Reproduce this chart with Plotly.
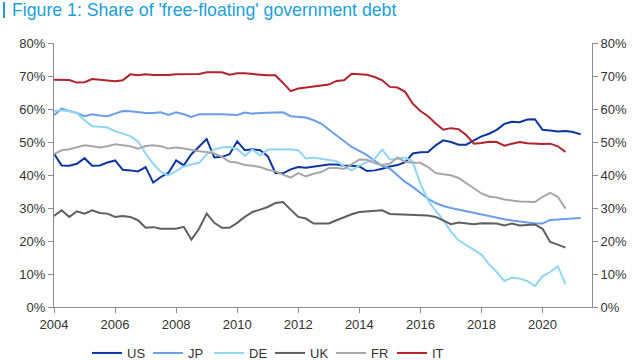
import plotly.graph_objects as go

# Quarterly observations, 2004Q1 onwards
start_year = 2004
US = [46.5, 42.9, 42.8, 43.4, 45.1, 42.8, 42.9, 43.8, 44.4, 41.6, 41.4, 41.1, 42.4, 37.7, 39.4, 40.7,
      44.4, 42.9, 46.3, 48.7, 50.9, 45.3, 45.5, 46.3, 50.2, 47.5, 47.8, 47.5, 45.7, 40.6, 40.5, 41.7,
      42.4, 42.2, 42.6, 42.9, 43.2, 43.2, 42.8, 42.8, 42.6, 41.2, 41.4, 41.9, 42.6, 43.0, 43.9, 46.5,
      46.9, 47.0, 49.0, 50.5, 50.0, 49.2, 49.2, 50.5, 51.7, 52.5, 53.7, 55.5, 56.1, 56.0, 56.8, 56.9,
      53.7, 53.5, 53.2, 53.3, 53.0, 52.3]
JP = [58.1, 60.1, 59.4, 58.8, 57.8, 58.4, 58.0, 57.8, 58.6, 59.4, 59.3, 59.0, 58.8, 58.8, 59.0, 58.2,
      59.0, 58.4, 57.6, 58.4, 58.5, 58.4, 58.4, 58.2, 58.2, 58.9, 58.6, 58.8, 58.8, 59.0, 59.0, 57.8,
      57.6, 57.4, 56.6, 55.6, 53.8, 52.1, 50.2, 48.5, 47.3, 46.0, 44.3, 42.7, 41.9, 39.9, 37.9, 36.4,
      34.5, 32.8, 31.5, 30.6, 30.0, 29.5, 28.9, 28.5, 27.9, 27.6, 27.0, 26.6, 26.2, 25.9, 25.5, 25.3,
      25.3, 26.4, 26.5, 26.6, 26.8, 27.0]
DE = [59.4, 59.6, 59.3, 58.8, 56.6, 54.8, 54.6, 54.4, 53.3, 52.5, 51.8, 50.2, 46.5, 43.4, 40.9, 39.9,
      41.2, 42.6, 43.2, 43.7, 46.3, 47.7, 48.3, 48.5, 47.9, 45.8, 47.7, 45.9, 47.7, 47.8, 47.8, 47.8,
      47.5, 45.0, 45.3, 44.9, 44.4, 44.2, 42.6, 41.4, 42.9, 43.9, 44.9, 47.7, 44.7, 44.9, 45.3, 44.0,
      37.4, 32.3, 29.1, 26.3, 22.8, 20.2, 18.7, 17.4, 15.9, 12.9, 10.6, 7.9, 8.9, 8.6, 7.9, 6.3,
      9.3, 10.6, 12.3, 6.9]
UK = [27.6, 29.3, 27.3, 29.0, 28.3, 29.3, 28.5, 28.3, 27.3, 27.6, 27.3, 26.3, 24.0, 24.2, 23.7, 23.6,
      23.7, 24.3, 20.4, 23.7, 28.3, 25.5, 24.0, 24.0, 25.5, 27.3, 28.8, 29.5, 30.3, 31.5, 31.8, 29.5,
      27.3, 26.8, 25.3, 25.3, 25.3, 26.3, 27.3, 28.1, 28.8, 28.9, 29.1, 29.3, 28.2, 28.1, 28.1, 28.0,
      27.8, 27.7, 27.3, 26.3, 25.1, 25.6, 25.4, 25.1, 25.4, 25.4, 25.3, 24.7, 25.3, 24.7, 24.8, 25.0,
      23.7, 19.7, 18.9, 18.0]
FR = [46.3, 47.5, 47.8, 48.3, 49.0, 48.7, 48.3, 48.7, 49.3, 49.0, 48.7, 48.0, 48.8, 49.0, 48.7, 48.0,
      48.3, 48.0, 47.5, 47.2, 47.0, 46.5, 45.5, 44.0, 43.8, 43.0, 42.8, 42.4, 41.6, 41.1, 40.1, 39.2,
      40.6, 39.6, 40.4, 40.9, 42.1, 42.1, 41.8, 43.2, 44.7, 44.6, 43.6, 43.0, 43.4, 45.3, 44.0, 43.7,
      43.7, 42.4, 40.6, 40.2, 39.9, 39.1, 37.6, 35.9, 34.4, 33.5, 33.2, 32.6, 32.2, 32.0, 31.9, 31.8,
      33.4, 34.6, 33.4, 29.8]
IT = [68.9, 68.9, 68.8, 68.0, 68.1, 69.1, 68.9, 68.8, 68.4, 68.7, 70.5, 70.2, 70.5, 70.3, 70.2, 70.3,
      70.5, 70.6, 70.6, 70.6, 71.1, 71.1, 71.1, 70.4, 70.8, 70.8, 70.7, 70.4, 70.2, 70.2, 67.9, 65.4,
      66.2, 66.5, 66.6, 66.9, 67.4, 68.5, 68.7, 70.7, 70.5, 70.4, 69.7, 68.7, 66.7, 66.5, 65.2, 61.6,
      59.4, 57.8, 55.6, 53.7, 54.2, 53.9, 52.1, 49.5, 49.7, 50.1, 50.0, 48.9, 49.5, 50.0, 49.6, 49.4,
      49.4, 49.5, 48.7, 47.0]

series_names = ["US", "JP", "DE", "UK", "FR", "IT"]
series_values = [US, JP, DE, UK, FR, IT]
series_colors = ["#0b35a0", "#6a9ee8", "#90d6f4", "#5f5f63", "#a7a7ab", "#b1232d"]

x_ticks = [2004, 2006, 2008, 2010, 2012, 2014, 2016, 2018, 2020]
y_ticks = [0, 10, 20, 30, 40, 50, 60, 70, 80]
y_tick_text = [f"{v}%" for v in y_ticks]

font_family = "Arial, Liberation Sans, sans-serif"
tick_color = "#333333"
axis_color = "#8c8c8c"

fig = go.Figure()
for name, vals, col in zip(series_names, series_values, series_colors):
    xs = [start_year + i / 4 for i in range(len(vals))]
    fig.add_trace(go.Scatter(x=xs, y=vals, name=name, mode="lines",
                             line=dict(color=col, width=2)))

# invisible trace to anchor the right-hand axis
fig.add_trace(go.Scatter(x=[start_year], y=[0], yaxis="y2", mode="lines",
                         showlegend=False, hoverinfo="skip", opacity=0))

fig.update_layout(
    width=640, height=360,
    margin=dict(l=54, r=48, t=43, b=53, autoexpand=False),
    paper_bgcolor="white", plot_bgcolor="white",
    font=dict(family=font_family, size=13, color=tick_color),
    title=dict(text="Figure 1: Share of 'free-floating' government debt",
               x=12 / 640, xanchor="left", xref="container",
               y=1 - 10 / 360, yanchor="middle", yref="container",
               font=dict(family=font_family, size=17.7, color="#1b9fd9")),
    xaxis=dict(range=[2004, 2021.62], tickvals=x_ticks, ticks="outside", ticklen=5,
               tickcolor=axis_color, showline=True, linecolor=axis_color, linewidth=1,
               showgrid=False, zeroline=False, automargin=False,
               tickfont=dict(size=13, color=tick_color)),
    yaxis=dict(range=[0, 80], tickvals=y_ticks, ticktext=y_tick_text, ticks="outside",
               ticklen=5, tickcolor=axis_color, showline=True, linecolor=axis_color,
               linewidth=1, showgrid=False, zeroline=False, automargin=False,
               tickfont=dict(size=13, color=tick_color)),
    yaxis2=dict(range=[0, 80], tickvals=y_ticks, ticktext=y_tick_text, overlaying="y",
                side="right", ticks="outside", ticklen=5, tickcolor=axis_color,
                showline=True, linecolor=axis_color, linewidth=1, showgrid=False,
                zeroline=False, automargin=False, tickfont=dict(size=13, color=tick_color)),
    legend=dict(orientation="h", x=(270 - 54) / 538, xanchor="center", xref="paper",
                y=(307 - 338) / 264, yanchor="top", yref="paper",
                font=dict(size=13, color=tick_color), itemwidth=30,
                entrywidth=16, entrywidthmode="pixels",
                tracegroupgap=0, bgcolor="rgba(0,0,0,0)"),
    showlegend=True,
)

# blue bar at the left of the title
fig.add_shape(type="rect", xref="paper", yref="paper",
              x0=(3 - 54) / 538, x1=(5 - 54) / 538,
              y0=(307 - 18) / 264, y1=(307 - 2) / 264,
              fillcolor="#1b9fd9", line=dict(width=0), layer="above")

fig.write_html("out.html", config={"displayModeBar": False},
               post_script="document.body.style.margin='0';document.body.style.overflow='hidden';")
